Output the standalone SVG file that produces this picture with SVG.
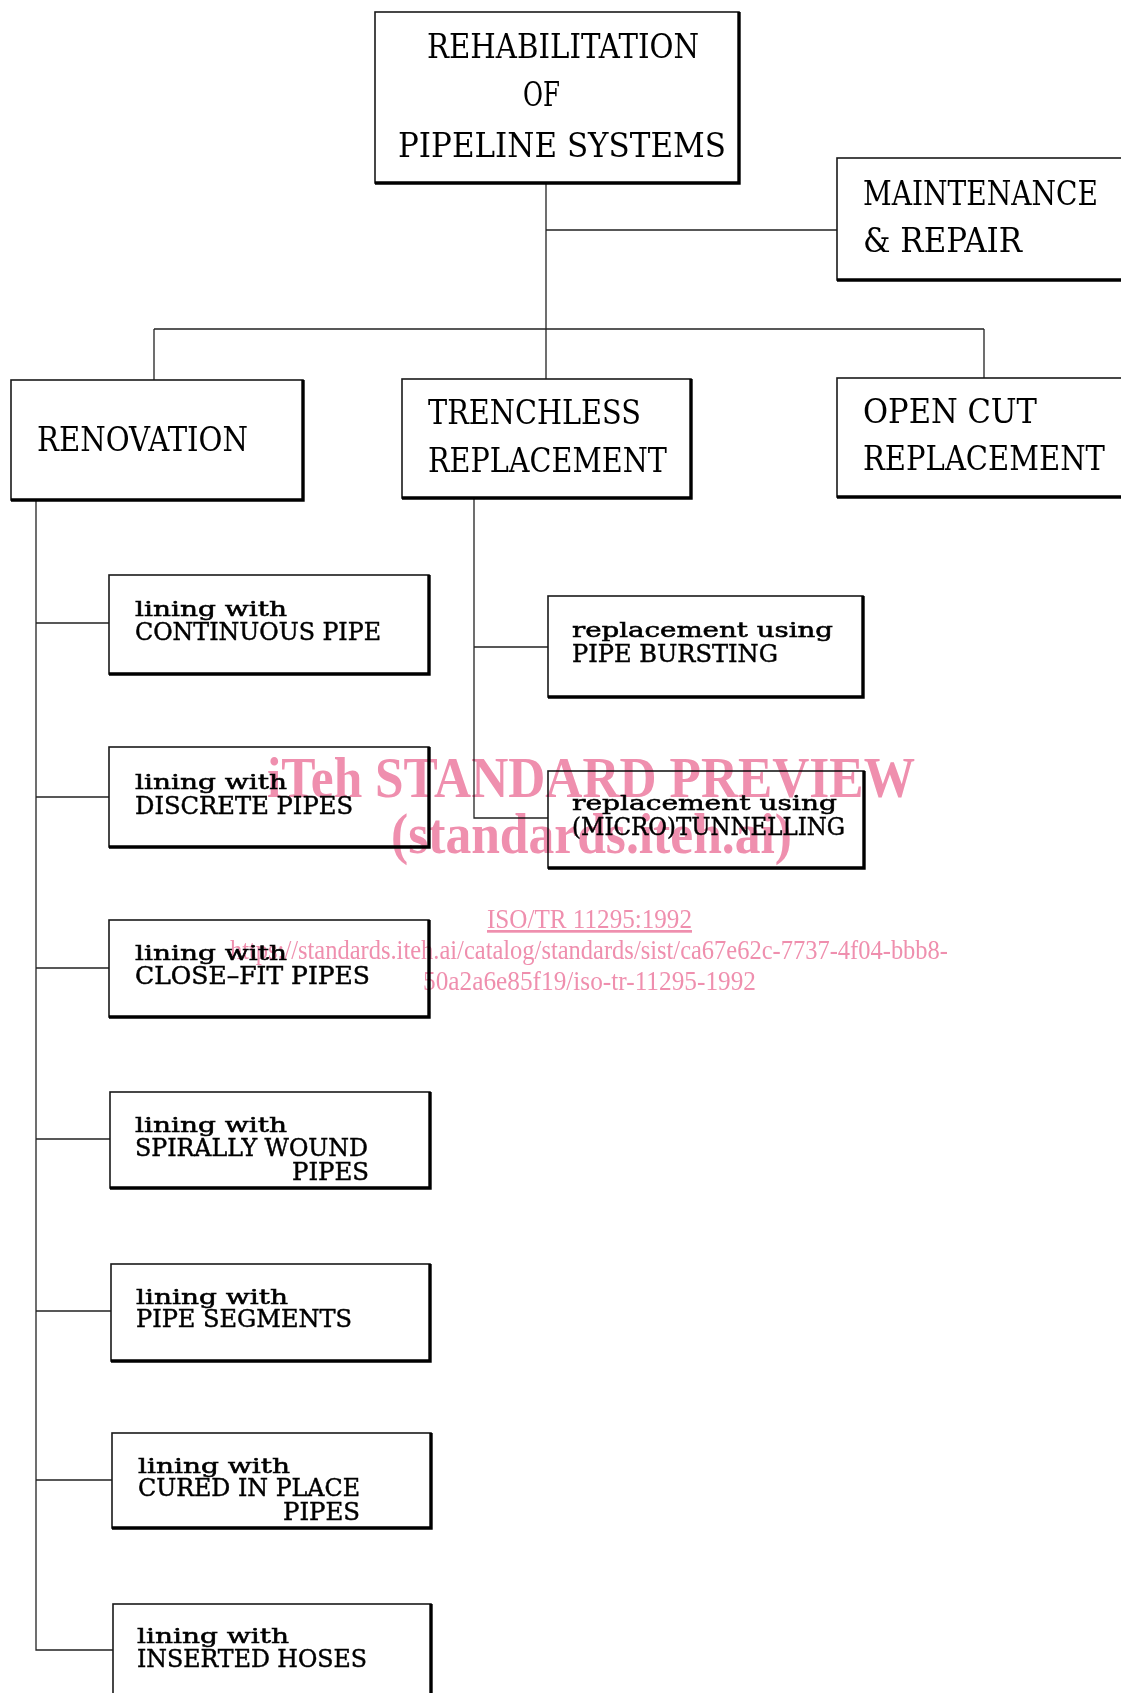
<svg xmlns="http://www.w3.org/2000/svg" width="1121" height="1693" viewBox="0 0 1121 1693">
<style>
.box{fill:#fff;stroke:#1a1a1a;stroke-width:1.6}
.sh{fill:none;stroke:#000;stroke-width:3.4}
.ln{fill:none;stroke:#222;stroke-width:1.3}
.big{font-family:"DejaVu Serif","Liberation Serif",serif;font-size:33px;fill:#000}
.cap{font-family:"DejaVu Serif","Liberation Serif",serif;font-size:24px;fill:#000;stroke:#000;stroke-width:0.45}
.low{font-family:"DejaVu Serif","Liberation Serif",serif;font-size:21px;fill:#000;stroke:#000;stroke-width:0.55}
.wm{font-family:"Liberation Serif","Times New Roman",serif;fill:#ef8fae;mix-blend-mode:multiply}
.wmb{font-weight:bold;font-size:56px}
.wms{font-size:27px}
</style>
<rect width="1121" height="1693" fill="#fff"/>
<g id="connectors">
<path class="ln" d="M546,183 V329 M546,230 H837 M154,329 H984 M154,329 V380 M546,329 V379 M984,329 V378"/>
<path class="ln" d="M36,500 V1650 H113 M36,623 H109 M36,797 H109 M36,968 H109 M36,1139 H110 M36,1311 H111 M36,1480 H112"/>
<path class="ln" d="M474,498 V818 H548 M474,647 H548"/>
</g>
<g id="n-root">
<rect class="box" x="375" y="12" width="364" height="171"/>
<path class="sh" d="M375,183 H739 V12"/>
<text class="big" x="427" y="58" textLength="272" lengthAdjust="spacingAndGlyphs">REHABILITATION</text>
<text class="big" x="523" y="106" textLength="37" lengthAdjust="spacingAndGlyphs">OF</text>
<text class="big" x="398" y="157" textLength="328" lengthAdjust="spacingAndGlyphs">PIPELINE SYSTEMS</text>
</g>
<g id="n-maint">
<rect class="box" x="837" y="158" width="300" height="122"/>
<path class="sh" d="M837,280 H1130"/>
<text class="big" x="863" y="205" textLength="235" lengthAdjust="spacingAndGlyphs">MAINTENANCE</text>
<text class="big" x="863" y="252" textLength="159" lengthAdjust="spacingAndGlyphs">&amp; REPAIR</text>
</g>
<g id="n-renov">
<rect class="box" x="11" y="380" width="292" height="120"/>
<path class="sh" d="M11,500 H303 V380"/>
<text class="big" x="37" y="451" textLength="211" lengthAdjust="spacingAndGlyphs">RENOVATION</text>
</g>
<g id="n-trench">
<rect class="box" x="402" y="379" width="289" height="119"/>
<path class="sh" d="M402,498 H691 V379"/>
<text class="big" x="428" y="424" textLength="213" lengthAdjust="spacingAndGlyphs">TRENCHLESS</text>
<text class="big" x="428" y="472" textLength="239" lengthAdjust="spacingAndGlyphs">REPLACEMENT</text>
</g>
<g id="n-open">
<rect class="box" x="837" y="378" width="300" height="119"/>
<path class="sh" d="M837,497 H1130"/>
<text class="big" x="863" y="423" textLength="174" lengthAdjust="spacingAndGlyphs">OPEN CUT</text>
<text class="big" x="863" y="470" textLength="242" lengthAdjust="spacingAndGlyphs">REPLACEMENT</text>
</g>
<g id="n-burst">
<rect class="box" x="548" y="596" width="315" height="101"/>
<path class="sh" d="M548,697 H863 V596"/>
<text class="low" x="572" y="637" textLength="261" lengthAdjust="spacingAndGlyphs">replacement using</text>
<text class="cap" x="572" y="662" textLength="206" lengthAdjust="spacingAndGlyphs">PIPE BURSTING</text>
</g>
<g id="n-micro">
<rect class="box" x="548" y="771" width="316" height="97"/>
<path class="sh" d="M548,868 H864 V771"/>
<text class="low" x="572" y="810" textLength="265" lengthAdjust="spacingAndGlyphs">replacement using</text>
<text class="cap" x="572" y="835" textLength="273" lengthAdjust="spacingAndGlyphs">(MICRO)TUNNELLING</text>
</g>
<g id="n-l1">
<rect class="box" x="109" y="575" width="320" height="99"/>
<path class="sh" d="M109,674 H429 V575"/>
<text class="low" x="135" y="616" textLength="152" lengthAdjust="spacingAndGlyphs">lining with</text>
<text class="cap" x="135" y="640" textLength="246" lengthAdjust="spacingAndGlyphs">CONTINUOUS PIPE</text>
</g>
<g id="n-l2">
<rect class="box" x="109" y="747" width="320" height="100"/>
<path class="sh" d="M109,847 H429 V747"/>
<text class="low" x="135" y="789" textLength="152" lengthAdjust="spacingAndGlyphs">lining with</text>
<text class="cap" x="135" y="814" textLength="218" lengthAdjust="spacingAndGlyphs">DISCRETE PIPES</text>
</g>
<g id="n-l3">
<rect class="box" x="109" y="920" width="320" height="97"/>
<path class="sh" d="M109,1017 H429 V920"/>
<text class="low" x="135" y="960" textLength="152" lengthAdjust="spacingAndGlyphs">lining with</text>
<text class="cap" x="135" y="984" textLength="235" lengthAdjust="spacingAndGlyphs">CLOSE–FIT PIPES</text>
</g>
<g id="n-l4">
<rect class="box" x="110" y="1092" width="320" height="96"/>
<path class="sh" d="M110,1188 H430 V1092"/>
<text class="low" x="135" y="1132" textLength="152" lengthAdjust="spacingAndGlyphs">lining with</text>
<text class="cap" x="135" y="1156" textLength="233" lengthAdjust="spacingAndGlyphs">SPIRALLY WOUND</text>
<text class="cap" x="292" y="1180" textLength="77" lengthAdjust="spacingAndGlyphs">PIPES</text>
</g>
<g id="n-l5">
<rect class="box" x="111" y="1264" width="319" height="97"/>
<path class="sh" d="M111,1361 H430 V1264"/>
<text class="low" x="136" y="1304" textLength="152" lengthAdjust="spacingAndGlyphs">lining with</text>
<text class="cap" x="136" y="1327" textLength="216" lengthAdjust="spacingAndGlyphs">PIPE SEGMENTS</text>
</g>
<g id="n-l6">
<rect class="box" x="112" y="1433" width="319" height="95"/>
<path class="sh" d="M112,1528 H431 V1433"/>
<text class="low" x="138" y="1473" textLength="152" lengthAdjust="spacingAndGlyphs">lining with</text>
<text class="cap" x="138" y="1496" textLength="222" lengthAdjust="spacingAndGlyphs">CURED IN PLACE</text>
<text class="cap" x="283" y="1520" textLength="77" lengthAdjust="spacingAndGlyphs">PIPES</text>
</g>
<g id="n-l7">
<rect class="box" x="113" y="1604" width="318" height="100"/>
<path class="sh" d="M431,1604 V1700"/>
<text class="low" x="137" y="1643" textLength="152" lengthAdjust="spacingAndGlyphs">lining with</text>
<text class="cap" x="137" y="1667" textLength="230" lengthAdjust="spacingAndGlyphs">INSERTED HOSES</text>
</g>
<g id="watermark">
<text class="wm wmb" x="267" y="797" textLength="648" lengthAdjust="spacingAndGlyphs">iTeh STANDARD PREVIEW</text>
<text class="wm wmb" x="391" y="853" textLength="401" lengthAdjust="spacingAndGlyphs">(standards.iteh.ai)</text>
<text class="wm wms" x="487" y="928" textLength="205" lengthAdjust="spacingAndGlyphs" text-decoration="underline">ISO/TR 11295:1992</text>
<text class="wm wms" x="230" y="959" textLength="718" lengthAdjust="spacingAndGlyphs">https://standards.iteh.ai/catalog/standards/sist/ca67e62c-7737-4f04-bbb8-</text>
<text class="wm wms" x="423" y="990" textLength="333" lengthAdjust="spacingAndGlyphs">50a2a6e85f19/iso-tr-11295-1992</text>
</g>
</svg>
